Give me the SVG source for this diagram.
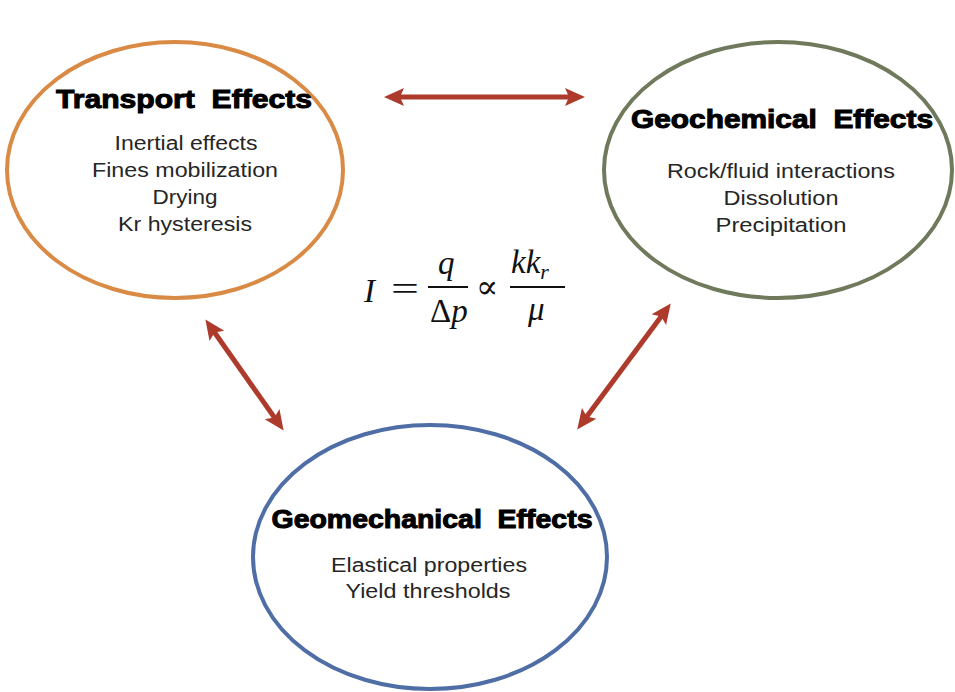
<svg xmlns="http://www.w3.org/2000/svg" width="955" height="692" viewBox="0 0 955 692">
<defs>
<style>
.ell{fill:none;stroke-width:4}
.title{font-family:"Liberation Sans",Arial,sans-serif;font-weight:bold;fill:#000;stroke:#000;stroke-width:1;text-anchor:middle}
.body{font-family:"Liberation Sans",Arial,sans-serif;font-size:19.5px;fill:#262626;text-anchor:middle}
.conn{stroke:#ad3a2b;stroke-width:5;fill:none;marker-start:url(#ah);marker-end:url(#ah)}
.m{font-family:"Liberation Serif","DejaVu Serif",serif;font-size:33px;fill:#111}
.mi{font-style:italic}
</style>
<marker id="ah" viewBox="0 0 10 10" refX="6" refY="5" markerWidth="4" markerHeight="4" orient="auto-start-reverse" markerUnits="strokeWidth">
<path d="M0,0.5 L10,5 L0,9.5 L2,5 Z" fill="#ad3a2b"/>
</marker>
</defs>
<rect width="955" height="692" fill="#fff"/>
<g id="connectors">
<line class="conn" x1="392" y1="97" x2="577" y2="97"/>
<line class="conn" x1="210" y1="326" x2="279" y2="424"/>
<line class="conn" x1="666" y1="310" x2="582" y2="423"/>
</g>
<g id="transport">
<ellipse class="ell" cx="175" cy="170" rx="168" ry="128" stroke="#d98a44"/>
<text class="title" x="184" y="108" font-size="26" xml:space="preserve" textLength="256" lengthAdjust="spacingAndGlyphs">Transport  Effects</text>
<text class="body" x="186" y="150" textLength="143" lengthAdjust="spacingAndGlyphs">Inertial effects</text>
<text class="body" x="185" y="177" textLength="186" lengthAdjust="spacingAndGlyphs">Fines mobilization</text>
<text class="body" x="185" y="204" textLength="65" lengthAdjust="spacingAndGlyphs">Drying</text>
<text class="body" x="185" y="231" textLength="134" lengthAdjust="spacingAndGlyphs">Kr hysteresis</text>
</g>
<g id="geochemical">
<ellipse class="ell" cx="778" cy="170" rx="174" ry="128" stroke="#6f795b"/>
<text class="title" x="782" y="128" font-size="25" xml:space="preserve" textLength="302" lengthAdjust="spacingAndGlyphs">Geochemical  Effects</text>
<text class="body" x="781" y="178" textLength="228" lengthAdjust="spacingAndGlyphs">Rock/fluid interactions</text>
<text class="body" x="781" y="205" textLength="115" lengthAdjust="spacingAndGlyphs">Dissolution</text>
<text class="body" x="781" y="232" textLength="131" lengthAdjust="spacingAndGlyphs">Precipitation</text>
</g>
<g id="geomechanical">
<ellipse class="ell" cx="430" cy="557" rx="177" ry="132" stroke="#4f6ea6"/>
<text class="title" x="432" y="528" font-size="25" xml:space="preserve" textLength="321" lengthAdjust="spacingAndGlyphs">Geomechanical  Effects</text>
<text class="body" x="429" y="572" textLength="196" lengthAdjust="spacingAndGlyphs">Elastical properties</text>
<text class="body" x="428" y="598" textLength="165" lengthAdjust="spacingAndGlyphs">Yield thresholds</text>
</g>
<g id="formula">
<text class="m mi" x="364" y="302">I</text>
<text class="m" x="391" y="300" textLength="28" lengthAdjust="spacingAndGlyphs">=</text>
<text class="m mi" x="438" y="274">q</text>
<line x1="428" y1="287" x2="468" y2="287" stroke="#111" stroke-width="2"/>
<text class="m" x="430" y="322">Δ<tspan class="mi">p</tspan></text>
<text class="m" x="476" y="298">∝</text>
<text class="m mi" x="511" y="273">kk<tspan font-size="22" dy="6">r</tspan></text>
<line x1="510" y1="287" x2="565" y2="287" stroke="#111" stroke-width="2"/>
<text class="m mi" x="528" y="320">μ</text>
</g>
</svg>
